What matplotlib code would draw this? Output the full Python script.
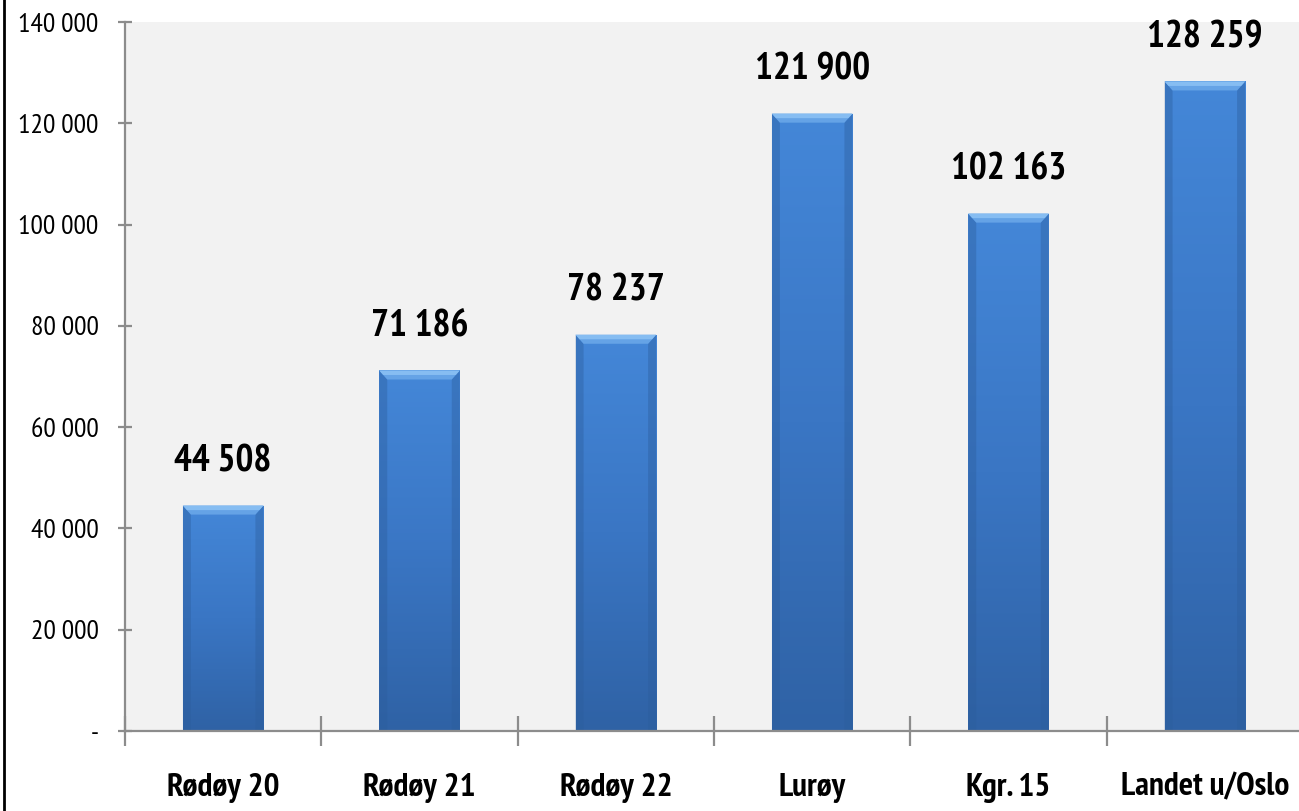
import numpy as np
import matplotlib
matplotlib.use("Agg")
import matplotlib.pyplot as plt
from matplotlib.patches import Polygon
from matplotlib.lines import Line2D
from matplotlib.colors import LinearSegmentedColormap

categories = ["Rødøy 20", "Rødøy 21", "Rødøy 22", "Lurøy", "Kgr. 15", "Landet u/Oslo"]
values = [44508, 71186, 78237, 121900, 102163, 128259]
y_ticks = [0, 20000, 40000, 60000, 80000, 100000, 120000, 140000]
y_tick_labels = ["-", "20 000", "40 000", "60 000", "80 000", "100 000", "120 000", "140 000"]

narrow = ["PT Sans Narrow", "DejaVu Sans"]

fig = plt.figure(figsize=(12.99, 8.11), dpi=100)
ax = fig.add_axes([125 / 1299, 80 / 811, 1178 / 1299, 709 / 811])
ax.set_facecolor("#f2f2f2")

x = np.arange(len(categories))
width = 0.41
bars = ax.bar(x, values, width=width, color="#3b78c6", edgecolor="none", zorder=2)

ax.set_xlim(-0.5, len(categories) - 0.5)
ax.set_ylim(0, 140000)

body = LinearSegmentedColormap.from_list("body", ["#2f62a5", "#3a76c4", "#4487d8"])
grad = np.linspace(0, 1, 256).reshape(-1, 1)

# bevel size in data units (about 9 px)
bev_y = 140000 / 709 * 9
bev_x = 1.0 / 196.4 * 8

for bar, v in zip(bars, values):
    x0 = bar.get_x()
    x1 = x0 + bar.get_width()
    im = ax.imshow(grad, extent=(x0, x1, 0, v), origin="lower", cmap=body,
                   aspect="auto", zorder=2.1, interpolation="bilinear")
    im.set_clip_path(bar)
    # top bevel
    ax.add_patch(Polygon([(x0, v), (x1, v), (x1 - bev_x, v - bev_y), (x0 + bev_x, v - bev_y)],
                         closed=True, facecolor="#65a3e6", edgecolor="none", zorder=2.3))
    ax.add_patch(Polygon([(x0, v), (x1, v), (x1 - bev_x * 0.5, v - bev_y * 0.5),
                          (x0 + bev_x * 0.5, v - bev_y * 0.5)],
                         closed=True, facecolor="#86bdf2", edgecolor="none", zorder=2.35))
    # side bevels
    ax.add_patch(Polygon([(x0, v), (x0 + bev_x, v - bev_y), (x0 + bev_x, 0), (x0, 0)],
                         closed=True, facecolor="#2c5d9c", alpha=0.4, edgecolor="none", zorder=2.2))
    ax.add_patch(Polygon([(x1, v), (x1 - bev_x, v - bev_y), (x1 - bev_x, 0), (x1, 0)],
                         closed=True, facecolor="#2c5d9c", alpha=0.4, edgecolor="none", zorder=2.2))
    ax.annotate(f"{v:,}".replace(",", " "), xy=(bar.get_x() + bar.get_width() / 2, v),
                xytext=(0, 19), textcoords="offset points", ha="center", va="bottom",
                fontsize=27, fontweight="bold", family=narrow, color="#000000", zorder=4)

for side in ("top", "right"):
    ax.spines[side].set_visible(False)
for side in ("left", "bottom"):
    ax.spines[side].set_color("#8c8c8c")
    ax.spines[side].set_linewidth(1.6)
    ax.spines[side].set_zorder(3)

ax.set_yticks(y_ticks)
ax.set_yticklabels(y_tick_labels, family=narrow, fontsize=20)
ax.tick_params(axis="y", direction="inout", length=10, width=1.6, color="#8c8c8c", pad=14)

ax.set_xticks(x)
ax.set_xticklabels(categories, family=narrow, fontsize=24, fontweight="bold")
ax.tick_params(axis="x", which="major", length=0, pad=30)
ax.set_xticks(np.arange(-0.5, len(categories), 1.0), minor=True)
ax.tick_params(axis="x", which="minor", direction="inout", length=21, width=1.6, color="#8c8c8c")

fig.add_artist(Line2D([4 / 1299, 4 / 1299], [0, 1], transform=fig.transFigure,
                      color="black", linewidth=2))

fig.savefig("out.png", dpi=100)
